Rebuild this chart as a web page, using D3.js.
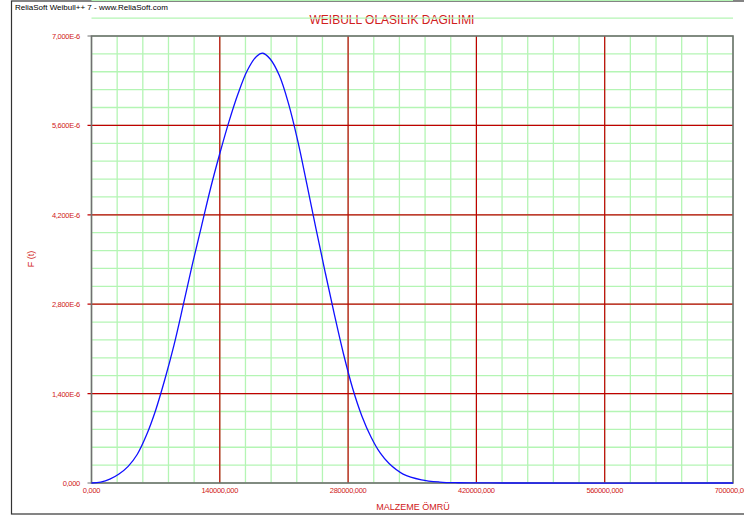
<!DOCTYPE html>
<html>
<head>
<meta charset="utf-8">
<script src="https://cdnjs.cloudflare.com/ajax/libs/d3/7.8.5/d3.min.js"></script>
<style>
body{margin:0;background:#fff;}
text{font-family:"Liberation Sans",Arial,sans-serif;}
</style>
</head>
<body>
<script>
var width=744;
var height=517;
var margin={left:91.5,top:36,right:11,bottom:34};

// readings: t (life) and f(t) in units of 1E-6
var lifeValues=[0,10000,20000,30000,40000,50000,60000,70000,80000,90000,100000,110000,120000,130000,140000,150000,160000,170000,180000,187000,195000,205000,215000,225000,235000,245000,255000,265000,275000,285000,295000,305000,315000,325000,340000,360000,380000,400000,450000,700000];
var densityValues=[0,0.015,0.06,0.14,0.26,0.45,0.75,1.14,1.62,2.16,2.78,3.42,4.02,4.62,5.16,5.66,6.10,6.46,6.68,6.73,6.64,6.38,5.94,5.36,4.68,3.98,3.30,2.64,2.02,1.48,1.05,0.72,0.47,0.30,0.14,0.05,0.015,0.004,0,0];

var xTicks=[0,140000,280000,420000,560000,700000];
var xTickLabels=["0,000","140000,000","280000,000","420000,000","560000,000","700000,000"];
var yTicks=[0,1.4,2.8,4.2,5.6,7.0];
var yTickLabels=["0,000","1,400E-6","2,800E-6","4,200E-6","5,600E-6","7,000E-6"];

var svg=d3.select("body")
          .append("svg")
          .attr("width",width)
          .attr("height",height)

// outer frame
svg.append("rect")
   .attr("x",11.5)
   .attr("y",1)
   .attr("width",760)
   .attr("height",513)
   .attr("fill","none")
   .attr("stroke","#333")
   .attr("stroke-width",1.2)

svg.append("text")
   .text("ReliaSoft Weibull++ 7 - www.ReliaSoft.com")
   .attr("x",15)
   .attr("y",10)
   .attr("font-size",8)
   .attr("fill","#000")

svg.append("text")
   .text("WEIBULL OLASILIK DAGILIMI")
   .attr("x",392)
   .attr("y",24)
   .attr("text-anchor","middle")
   .attr("font-size",12)
   .attr("fill","#d02020")

var xScale=d3.scaleLinear()
             .domain([0,700000])
             .range([margin.left,733])
var yScale=d3.scaleLinear()
             .domain([0,7])
             .range([483,margin.top])

// minor grid
var xMinor=d3.range(0,700001,28000);
var yMinor=d3.range(0,36).map(function(i){return i*0.28});
svg.append("g")
   .selectAll("line")
   .data(xMinor)
   .enter()
   .append("line")
   .attr("x1",function(d){return xScale(d)})
   .attr("x2",function(d){return xScale(d)})
   .attr("y1",yScale(0))
   .attr("y2",yScale(7))
   .attr("stroke","#b4f5b4")
   .attr("stroke-width",1.3)
svg.append("g")
   .selectAll("line")
   .data(yMinor)
   .enter()
   .append("line")
   .attr("x1",xScale(0))
   .attr("x2",xScale(700000))
   .attr("y1",function(d){return yScale(d)})
   .attr("y2",function(d){return yScale(d)})
   .attr("stroke","#b4f5b4")
   .attr("stroke-width",1.3)

// major grid
svg.append("g")
   .selectAll("line")
   .data(xTicks.slice(1,-1))
   .enter()
   .append("line")
   .attr("x1",function(d){return xScale(d)})
   .attr("x2",function(d){return xScale(d)})
   .attr("y1",yScale(0))
   .attr("y2",yScale(7))
   .attr("stroke","#c00000")
   .attr("stroke-width",1.2)
svg.append("g")
   .selectAll("line")
   .data(yTicks.slice(1,-1))
   .enter()
   .append("line")
   .attr("x1",xScale(0)-4)
   .attr("x2",xScale(700000))
   .attr("y1",function(d){return yScale(d)})
   .attr("y2",function(d){return yScale(d)})
   .attr("stroke","#c00000")
   .attr("stroke-width",1.2)

// plot frame
svg.append("rect")
   .attr("x",xScale(0))
   .attr("y",yScale(7))
   .attr("width",xScale(700000)-xScale(0))
   .attr("height",yScale(0)-yScale(7))
   .attr("fill","none")
   .attr("stroke","#707070")
   .attr("stroke-width",1.6)
svg.append("line")
   .attr("x1",xScale(0)-4).attr("x2",xScale(0))
   .attr("y1",yScale(0)).attr("y2",yScale(0))
   .attr("stroke","#707070")
svg.append("line")
   .attr("x1",xScale(0)-4).attr("x2",xScale(0))
   .attr("y1",yScale(7)).attr("y2",yScale(7))
   .attr("stroke","#707070")

// tick labels
svg.append("g")
   .selectAll("text")
   .data(yTicks)
   .enter()
   .append("text")
   .text(function(d,i){return yTickLabels[i]})
   .attr("x",80)
   .attr("y",function(d){return yScale(d)+3})
   .attr("text-anchor","end")
   .attr("font-size",7.5)
   .attr("letter-spacing",-0.3)
   .attr("fill","#d02020")
svg.append("g")
   .selectAll("text")
   .data(xTicks)
   .enter()
   .append("text")
   .text(function(d,i){return xTickLabels[i]})
   .attr("x",function(d){return xScale(d)})
   .attr("y",493)
   .attr("text-anchor","middle")
   .attr("font-size",7.5)
   .attr("letter-spacing",-0.3)
   .attr("fill","#d02020")

svg.append("text")
   .text("MALZEME  ÖMRÜ")
   .attr("x",413)
   .attr("y",510)
   .attr("text-anchor","middle")
   .attr("font-size",9)
   .attr("fill","#d02020")
svg.append("text")
   .text("F (t)")
   .attr("transform","translate(34,259) rotate(-90)")
   .attr("text-anchor","middle")
   .attr("font-size",9)
   .attr("fill","#d02020")

// weibull pdf curve
var line=d3.line()
           .x(function(d){return xScale(d[0])})
           .y(function(d){return yScale(d[1])})
           .curve(d3.curveCatmullRom.alpha(0.5))
svg.append("path")
   .datum(d3.zip(lifeValues,densityValues))
   .attr("d",line)
   .attr("fill","none")
   .attr("stroke","#1010ff")
   .attr("stroke-width",1.3)
</script>
</body>
</html>
